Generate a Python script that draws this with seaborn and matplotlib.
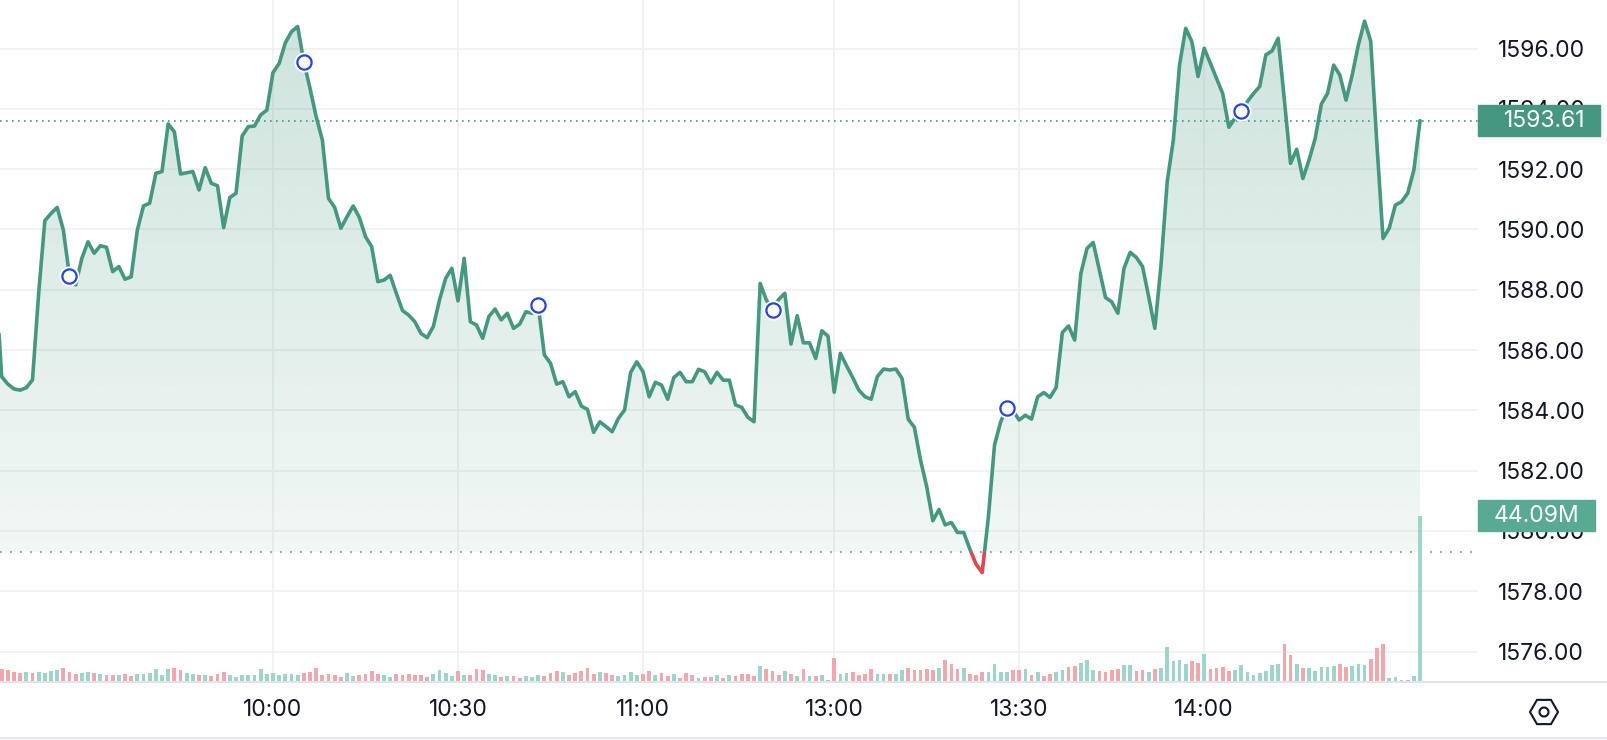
import numpy as np
import matplotlib
matplotlib.use("Agg")
import matplotlib.pyplot as plt
import matplotlib.transforms as mtransforms
from matplotlib.patches import Polygon, Rectangle, RegularPolygon, Circle
from matplotlib.lines import Line2D
import seaborn as sns

# one point per minute (first point sits just left of the visible window)
price = [
    1588.40,
    1585.12, 1584.87, 1584.71, 1584.67, 1584.75, 1585.01, 1587.88, 1590.29, 1590.53, 1590.73,
    1589.98, 1588.46, 1588.16, 1589.04, 1589.59, 1589.21, 1589.46, 1589.41, 1588.60, 1588.77,
    1588.35, 1588.43, 1589.98, 1590.78, 1590.87, 1591.86, 1591.92, 1593.50, 1593.24, 1591.84,
    1591.88, 1591.92, 1591.31, 1592.05, 1591.53, 1591.45, 1590.06, 1591.06, 1591.20, 1593.10,
    1593.41, 1593.43, 1593.80, 1593.96, 1595.20, 1595.51, 1596.19, 1596.56, 1596.73, 1595.56,
    1594.68, 1593.74, 1592.97, 1591.03, 1590.73, 1590.04, 1590.42, 1590.78, 1590.40, 1589.76,
    1589.43, 1588.27, 1588.32, 1588.48, 1587.88, 1587.31, 1587.16, 1586.94, 1586.55, 1586.41,
    1586.78, 1587.66, 1588.38, 1588.71, 1587.63, 1589.04, 1586.94, 1586.83, 1586.39, 1587.11,
    1587.36, 1587.00, 1587.22, 1586.72, 1586.86, 1587.27, 1587.22, 1587.49, 1585.84, 1585.56,
    1584.87, 1584.95, 1584.45, 1584.62, 1584.14, 1584.03, 1583.27, 1583.62, 1583.46, 1583.29,
    1583.73, 1584.01, 1585.26, 1585.61, 1585.28, 1584.45, 1584.93, 1584.84, 1584.37, 1585.09,
    1585.26, 1584.95, 1584.95, 1585.36, 1585.28, 1584.91, 1585.26, 1585.00, 1585.00, 1584.18,
    1584.10, 1583.77, 1583.62, 1588.21, 1587.66, 1587.33, 1587.68, 1587.88, 1586.20, 1587.14,
    1586.24, 1586.24, 1585.72, 1586.64, 1586.46, 1584.60, 1585.89, 1585.48, 1585.09, 1584.67,
    1584.45, 1584.37, 1585.12, 1585.37, 1585.34, 1585.37, 1585.06, 1583.71, 1583.44, 1582.35,
    1581.47, 1580.34, 1580.71, 1580.20, 1580.28, 1579.95, 1579.95, 1579.40, 1578.90, 1578.62,
    1580.45, 1582.85, 1583.62, 1584.09, 1583.99, 1583.68, 1583.84, 1583.71, 1584.45, 1584.59,
    1584.43, 1584.76, 1586.58, 1586.80, 1586.33, 1588.54, 1589.37, 1589.57, 1588.65, 1587.74,
    1587.60, 1587.22, 1588.71, 1589.24, 1589.07, 1588.77, 1587.77, 1586.72, 1588.82, 1591.58,
    1592.97, 1595.45, 1596.67, 1596.23, 1595.07, 1596.01, 1595.51, 1595.01, 1594.51, 1593.39,
    1593.69, 1593.93, 1594.24, 1594.51, 1594.74, 1595.79, 1595.92, 1596.34, 1594.29, 1592.19,
    1592.66, 1591.69, 1592.30, 1593.02, 1594.16, 1594.51, 1595.45, 1595.12, 1594.29, 1595.12,
    1596.12, 1596.91, 1596.25, 1592.85, 1589.70, 1590.04, 1590.81, 1590.92, 1591.20, 1591.97,
    1593.61,
]

# volume per minute, millions
volume = [
    2.39,
    3.45, 3.19, 2.66, 2.39, 2.66, 2.39, 2.66, 2.39, 2.92, 3.19,
    3.72, 2.66, 2.12, 2.39, 2.66, 2.39, 2.12, 1.86, 1.86, 1.86,
    2.12, 1.59, 2.12, 2.12, 2.39, 3.45, 1.86, 3.45, 3.72, 3.19,
    2.39, 2.12, 1.86, 1.86, 1.59, 2.12, 2.66, 1.86, 1.33, 1.86,
    1.86, 1.86, 3.45, 2.12, 2.39, 1.86, 2.12, 2.12, 1.86, 2.39,
    2.66, 3.72, 1.86, 2.12, 1.86, 1.33, 2.39, 1.59, 1.86, 2.12,
    2.92, 2.12, 1.86, 1.33, 2.12, 1.86, 2.12, 1.86, 1.86, 1.33,
    2.12, 3.19, 2.39, 1.59, 2.92, 1.86, 1.86, 3.45, 3.19, 2.12,
    1.86, 1.33, 1.59, 1.59, 1.06, 1.59, 1.33, 1.86, 1.59, 2.39,
    2.92, 2.66, 1.86, 2.39, 2.92, 3.72, 2.12, 2.66, 2.39, 1.86,
    1.59, 1.86, 2.66, 1.86, 2.12, 2.92, 1.86, 2.39, 1.59, 2.12,
    1.06, 2.39, 1.86, 1.06, 1.33, 1.33, 1.86, 1.06, 1.86, 1.59,
    2.12, 2.12, 1.59, 4.25, 3.45, 2.92, 1.86, 2.92, 2.12, 1.59,
    3.45, 1.59, 1.59, 1.86, 0.53, 6.37, 2.12, 2.39, 2.66, 1.86,
    2.12, 3.45, 2.12, 2.12, 2.12, 2.12, 3.19, 3.72, 3.19, 3.19,
    3.45, 3.19, 3.72, 5.84, 4.78, 3.45, 3.72, 2.12, 1.86, 2.66,
    2.66, 4.78, 2.66, 2.66, 3.19, 3.19, 3.45, 1.86, 2.66, 1.59,
    2.12, 2.66, 3.19, 3.98, 4.25, 5.04, 5.84, 3.19, 2.92, 2.66,
    3.19, 3.45, 4.51, 4.51, 2.92, 3.19, 2.66, 3.45, 3.72, 9.29,
    5.58, 5.84, 4.78, 5.58, 5.04, 7.43, 3.45, 3.72, 3.98, 2.92,
    3.19, 4.51, 2.66, 1.86, 2.39, 2.92, 4.51, 4.78, 10.09, 7.17,
    4.78, 3.72, 3.72, 2.92, 3.98, 3.98, 4.25, 4.78, 3.98, 4.25,
    4.78, 4.51, 6.11, 9.03, 10.09, 1.06, 1.33, 0.53, 0.53, 1.59,
    44.09,
]

# u = up minute (green volume bar), d = down minute (red volume bar)
updown = list(
    "d"
    "dddduduuuu" "ddduududdu" "dduuuuuudd" "uududdduuu" "uuuuuuuuud"
    "dddddduudd" "dduudddddd" "uuuududddu" "ududduuudd" "dudddddudd"
    "uuuudduddu" "ddduddudud" "dddudddudu" "dududduudd" "dduuduuddd"
    "dduddduddd" "uuuuddudud" "duudduuudd" "dduudduduu" "uuuddudddd"
    "uuuuuuuudd" "uduuuuuddu" "uuddduuudu"
    "u"
)

marker_idx = [12, 50, 88, 126, 164, 202]
tick_idx = [45, 75, 105, 136, 166, 196]
tick_lab = ["10:00", "10:30", "11:00", "13:00", "13:30", "14:00"]
price_ticks = [1576, 1578, 1580, 1582, 1584, 1586, 1588, 1590, 1592, 1594, 1596]
prev_close = 1579.31
last_price = 1593.61
last_volume = 44.09

n = min(len(price), len(volume), len(updown))
price = np.array(price[:n])
volume = np.array(volume[:n])
updown = updown[:n]
x = np.arange(n)

GREEN = "#46977f"
RED = "#e0474c"
TEXT = "#131722"
GRID = "#f0f1f3"
FS = 16.5

sns.set_theme(style="white")
plt.rcParams["font.family"] = ["Inter", "DejaVu Sans"]

fig = plt.figure(figsize=(16.08, 7.40), dpi=100)
ax = fig.add_axes([0, 58 / 740, 1478 / 1608, 682 / 740])
ax.set_facecolor("none")
ax2 = ax.twinx()  # volume axis

y_lo, y_hi = 1574.99, 1597.61
x_lo, x_hi = 0.73, 240.4

# gradient fill between the line and the previous close (only above it)
top = np.maximum(price, prev_close)
verts = np.column_stack([np.r_[x, x[::-1]], np.r_[top, np.full(n, prev_close)]])
clip_poly = Polygon(verts, closed=True, transform=ax.transData, fc="none", ec="none")
alpha = np.linspace(0.075, 0.27, 256)[:, None]
rgb = matplotlib.colors.to_rgb(GREEN)
grad = np.zeros((256, 1, 4))
grad[..., 0], grad[..., 1], grad[..., 2] = rgb
grad[..., 3] = alpha
im = ax.imshow(grad, extent=[x[0], x[-1], prev_close, y_hi], origin="lower",
               aspect="auto", interpolation="bilinear", zorder=1)
im.set_clip_path(clip_poly)

# price line: green above previous close, red below
sns.lineplot(x=x, y=price, ax=ax, color=GREEN, linewidth=2.6, zorder=4)
line_up = ax.lines[-1]
sns.lineplot(x=x, y=price, ax=ax, color=RED, linewidth=2.6, zorder=4)
line_dn = ax.lines[-1]
for ln in (line_up, line_dn):
    ln.set_solid_joinstyle("round")
line_up.set_clip_path(Rectangle((x_lo - 5, prev_close), 300, 50, transform=ax.transData))
line_dn.set_clip_path(Rectangle((x_lo - 5, prev_close - 50), 300, 50, transform=ax.transData))

# dotted reference lines
ax.axhline(last_price, color=GREEN, lw=1.2, ls=(0, (1, 2.6)), zorder=3)
ax.axhline(prev_close, color="#868993", lw=1.2, ls=(0, (1, 5)), zorder=3)

# hollow markers with white halo
mx = x[marker_idx]
my = price[marker_idx]
ax.scatter(mx, my, s=210, color="white", zorder=5, linewidths=0)
sns.scatterplot(x=mx, y=my, ax=ax, s=105, facecolor="white", edgecolor="#2444e0",
                linewidth=1.6, zorder=6, legend=False)

ax.set_xlim(x_lo, x_hi)
ax.set_ylim(y_lo, y_hi)
ax.set_xticks(tick_idx, tick_lab)
ax.set_yticks(price_ticks, [f"{p:.2f}" for p in price_ticks])
ax.yaxis.tick_right()
ax.tick_params(axis="y", which="both", labelleft=False, labelright=True)
ax.grid(True, color=GRID, lw=1.3)
ax.set_axisbelow(True)
ax.tick_params(axis="x", length=0, pad=12, labelsize=FS, labelcolor=TEXT)
ax.tick_params(axis="y", length=0, pad=14.4, labelsize=FS, labelcolor=TEXT)
for sp in ax.spines.values():
    sp.set_visible(False)

# last price tag
tr = mtransforms.blended_transform_factory(ax.transAxes, ax.transData)
h_price = 31 / 30.15
ax.add_patch(Rectangle((1.0, last_price - h_price / 2), 122 / 1478, h_price,
                       transform=tr, color=GREEN, clip_on=False, zorder=7))
ax.text(1545 / 1478, last_price, f"{last_price:.2f}", transform=tr, ha="center",
        va="center", color="white", fontsize=FS, zorder=8, clip_on=False)

# volume bars
ax2.set_ylim(0, 181.1)
bar_col = ["#9fd4c8" if c == "u" else "#f0a8ad" for c in updown]
ax2.bar(x, volume, width=0.6, color=bar_col, linewidth=0, zorder=2)
ax2.set_yticks([])
ax2.set_xlim(x_lo, x_hi)
for sp in ax2.spines.values():
    sp.set_visible(False)

tr2 = mtransforms.blended_transform_factory(ax2.transAxes, ax2.transData)
h_vol = 31 * 181.1 / 682
ax2.add_patch(Rectangle((1.0, last_volume - h_vol / 2), 117 / 1478, h_vol,
                        transform=tr2, color="#58aa93", clip_on=False, zorder=7))
ax2.text(1536 / 1478, last_volume, f"{last_volume:.2f}M", transform=tr2, ha="center",
         va="center", color="white", fontsize=FS, zorder=8, clip_on=False)

# separators and settings icon
for yy in (58 / 740, 2 / 740):
    fig.add_artist(Line2D([0, 1], [yy, yy], transform=fig.transFigure,
                          color="#e0e3eb", lw=1.5))
fig.add_artist(RegularPolygon((15.44, 0.28), numVertices=6, radius=0.14,
                              orientation=np.pi / 6, transform=fig.dpi_scale_trans,
                              fill=False, ec=TEXT, lw=1.5))
fig.add_artist(Circle((15.44, 0.28), 0.045, transform=fig.dpi_scale_trans,
                      fill=False, ec=TEXT, lw=1.5))

fig.savefig("out.png", dpi=100)
